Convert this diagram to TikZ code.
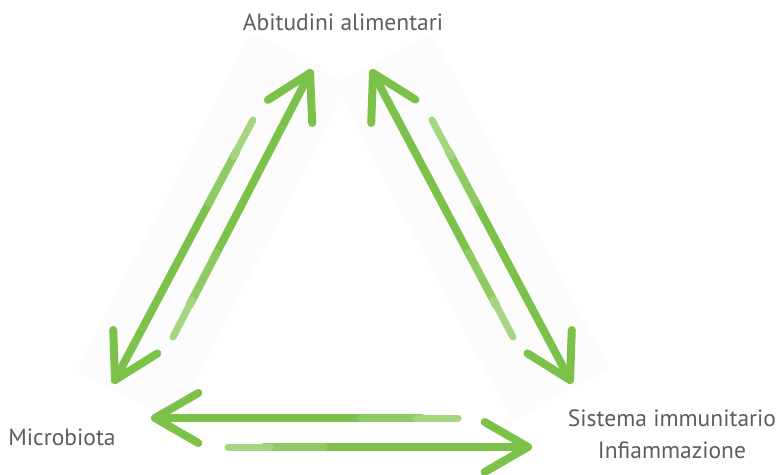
\documentclass[tikz,border=0pt]{standalone}
\usepackage{fontspec}
\setmainfont{PT Sans}
\usetikzlibrary{calc}
\definecolor{grn}{HTML}{7CC24A}
\definecolor{grnm}{HTML}{8FCB63}
\definecolor{grnl}{HTML}{A4D57F}
\definecolor{txt}{HTML}{5E5E5E}
\definecolor{bgc}{HTML}{FCFCFC}
\tikzset{
  arr/.style={draw=grn, line width=8pt, line cap=round, line join=round},
  lbl/.style={text=txt, font=\fontsize{23.5}{32}\selectfont, inner sep=0pt},
  bgpanel/.style={fill=bgc, draw=none}
}
\newcommand\chalkarrow[2]{%
  \draw[arr] ($(#1)!0.3!(#2)$) -- (#2);
  \draw[arr, draw=grnm] ($(#1)!0.12!(#2)$) -- ($(#1)!0.32!(#2)$);
  \draw[arr, draw=grnl, line width=7pt] (#1) -- ($(#1)!0.14!(#2)$);
  \draw[arr] ($(#2)!50pt!30:(#1)$) -- (#2) -- ($(#2)!50pt!-30:(#1)$);
}
\begin{document}
\begin{tikzpicture}[x=1pt,y=-1pt]
\useasboundingbox (0,0) rectangle (784,474);
\fill[white] (0,0) rectangle (784,474);
% faint panels
\node[bgpanel, rotate=62.6, minimum width=380pt, minimum height=110pt] (bgL) at (213,227) {};
\node[bgpanel, rotate=117.9, minimum width=380pt, minimum height=110pt] (bgR) at (472,227) {};
% labels
\node[lbl] (abit) at (343,22) {Abitudini alimentari};
\node[lbl] (micro) at (62,437) {Microbiota};
\node[lbl, align=center] (sist) at (672,434) {Sistema immunitario\\Infiammazione};
% arrow end points
\coordinate (L1t) at (173,337); \coordinate (L1h) at (310,73);
\coordinate (L2t) at (253,120); \coordinate (L2h) at (115,380);
\coordinate (R1t) at (513,337); \coordinate (R1h) at (373,73);
\coordinate (R2t) at (432,120); \coordinate (R2h) at (570,380);
\coordinate (B1t) at (458,418); \coordinate (B1h) at (155,418);
\coordinate (B2t) at (228,447); \coordinate (B2h) at (528,447);
\chalkarrow{L1t}{L1h}
\chalkarrow{L2t}{L2h}
\chalkarrow{R1t}{R1h}
\chalkarrow{R2t}{R2h}
\chalkarrow{B1t}{B1h}
\chalkarrow{B2t}{B2h}
\end{tikzpicture}
\end{document}
